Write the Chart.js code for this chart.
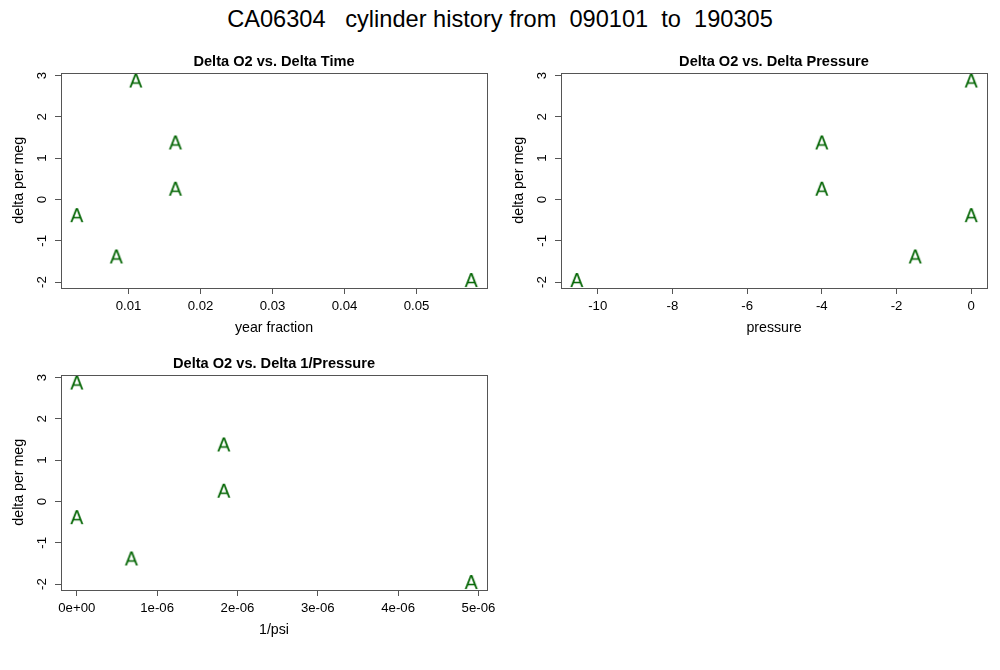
<!DOCTYPE html>
<html>
<head>
<meta charset="utf-8">
<script src="https://cdn.jsdelivr.net/npm/chart.js@4.4.1/dist/chart.umd.min.js"></script>
<style>
  body { margin: 0; background: #fff; width: 1000px; height: 670px; position: relative; overflow: hidden; }
  #mainTitle { position: absolute; left: 0; top: 7px; width: 1000px; text-align: center;
               font: 23.6px "Liberation Sans", Arial, sans-serif; line-height: 24px; color: #000; white-space: pre; }
  canvas { position: absolute; }
</style>
</head>
<body>
<div id="mainTitle">CA06304   cylinder history from  090101  to  190305</div>
<canvas id="timeChart" width="500" height="305" style="left:0;top:40px"></canvas>
<canvas id="pressChart" width="500" height="305" style="left:500px;top:40px"></canvas>
<canvas id="invChart" width="500" height="305" style="left:0;top:342px"></canvas>
<script>
const deltaO2 = [2.88, 1.38, 0.26, -0.38, -1.38, -1.95];
const deltaTime = [0.0110, 0.0165, 0.0165, 0.0028, 0.0083, 0.0576];
const deltaPressure = [0, -4.0, -4.0, 0, -1.5, -10.56];
const deltaInvPressure = [0, 1.83e-6, 1.83e-6, 0, 0.68e-6, 4.91e-6];

const yTicks = [-2, -1, 0, 1, 2, 3];
const timeTicks = [0.01, 0.02, 0.03, 0.04, 0.05];
const timeTickLabels = ['0.01', '0.02', '0.03', '0.04', '0.05'];
const pressTicks = [-10, -8, -6, -4, -2, 0];
const pressTickLabels = ['-10', '-8', '-6', '-4', '-2', '0'];
const invTicks = [0, 1e-6, 2e-6, 3e-6, 4e-6, 5e-6];
const invTickLabels = ['0e+00', '1e-06', '2e-06', '3e-06', '4e-06', '5e-06'];

const FONT = '"Liberation Sans", Arial, sans-serif';
const GREEN = '#006400';

// R pads the data range by 4% on each side
function rRange(values) {
    const lo = Math.min(...values), hi = Math.max(...values);
    const pad = (hi - lo) * 0.04;
    return [lo - pad, hi + pad];
}

// the plotting character "A"
const letterA = document.createElement('canvas');
letterA.width = 24;
letterA.height = 24;
(function () {
    const c = letterA.getContext('2d');
    c.fillStyle = GREEN;
    c.font = '19.5px ' + FONT;
    c.textAlign = 'center';
    c.textBaseline = 'alphabetic';
    c.fillText('A', 12, 12 + 19.5 * 0.36);
})();

const frame = {
    id: 'frame',
    afterDatasetsDraw(chart) {
        const { ctx, chartArea: a } = chart;
        ctx.save();
        ctx.strokeStyle = '#555';
        ctx.lineWidth = 1;
        ctx.strokeRect(Math.round(a.left) + 0.5, Math.round(a.top) + 0.5,
            Math.round(a.right - a.left), Math.round(a.bottom - a.top));
        ctx.restore();
    }
};

function renderPanel(canvasId, title, xTitle, xs, xTicks, xTickLabels) {
    const [xMin, xMax] = rRange(xs);
    const [yMin, yMax] = rRange(deltaO2);
    new Chart(document.getElementById(canvasId).getContext('2d'), {
        type: 'scatter',
        data: {
            datasets: [{
                data: xs.map((x, i) => ({ x, y: deltaO2[i] })),
                pointStyle: letterA,
                radius: 10,
                hoverRadius: 10,
                clip: false
            }]
        },
        options: {
            responsive: false,
            animation: false,
            devicePixelRatio: 1,
            events: [],
            layout: { padding: { top: 0, right: 13, bottom: 0, left: 0 } },
            plugins: {
                legend: { display: false },
                tooltip: { enabled: false },
                title: {
                    display: true,
                    fullSize: false,
                    text: title,
                    color: '#000',
                    font: { family: FONT, size: 14.6, weight: 'bold' },
                    padding: { top: 13, bottom: 2 }
                }
            },
            scales: {
                x: {
                    type: 'linear',
                    min: xMin,
                    max: xMax,
                    afterBuildTicks: axis => { axis.ticks = xTicks.map(v => ({ value: v })); },
                    afterFit: axis => { axis.height = 57; },
                    grid: { drawOnChartArea: false, tickLength: 6, color: '#555' },
                    border: { display: false },
                    ticks: {
                        color: '#000',
                        padding: 4,
                        maxRotation: 0,
                        autoSkip: false,
                        font: { family: FONT, size: 13.2 },
                        callback: (v, i) => xTickLabels[i]
                    },
                    title: {
                        display: true,
                        text: xTitle,
                        color: '#000',
                        font: { family: FONT, size: 14.2 },
                        padding: { top: 0, bottom: 8 }
                    }
                },
                y: {
                    type: 'linear',
                    min: yMin,
                    max: yMax,
                    afterBuildTicks: axis => { axis.ticks = yTicks.map(v => ({ value: v })); },
                    afterFit: axis => { axis.width = 61; },
                    grid: { drawOnChartArea: false, tickLength: 6, color: '#555' },
                    border: { display: false },
                    ticks: {
                        color: '#000',
                        padding: 7,
                        minRotation: 90,
                        maxRotation: 90,
                        crossAlign: 'center',
                        autoSkip: false,
                        font: { family: FONT, size: 13.2 },
                        callback: v => String(v)
                    },
                    title: {
                        display: true,
                        text: 'delta per meg',
                        color: '#000',
                        font: { family: FONT, size: 14.2 },
                        padding: { top: 11, bottom: 0 }
                    }
                }
            }
        },
        plugins: [frame]
    });
}

renderPanel('timeChart', 'Delta O2 vs. Delta Time', 'year fraction', deltaTime, timeTicks, timeTickLabels);
renderPanel('pressChart', 'Delta O2 vs. Delta Pressure', 'pressure', deltaPressure, pressTicks, pressTickLabels);
renderPanel('invChart', 'Delta O2 vs. Delta 1/Pressure', '1/psi', deltaInvPressure, invTicks, invTickLabels);
</script>
</body>
</html>
